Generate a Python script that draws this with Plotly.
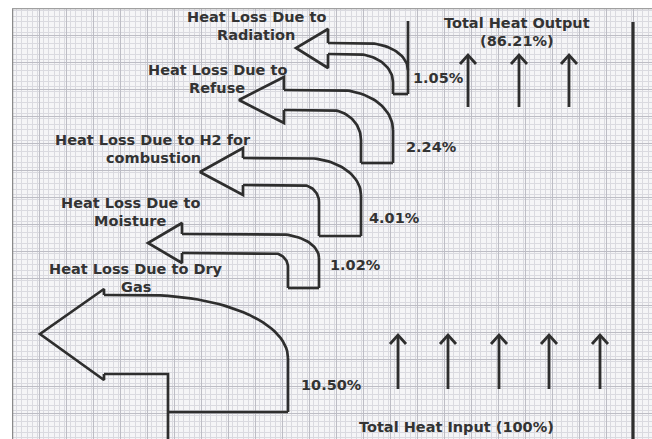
import numpy as np
import plotly.graph_objs as go

# Heat balance data (percent of total heat input)
loss_labels = ['Heat Loss Due to<br>Radiation', 'Heat Loss Due to<br>Refuse',
               'Heat Loss Due to H2 for<br>combustion', 'Heat Loss Due to<br>Moisture',
               'Heat Loss Due to Dry<br>Gas']
loss_values = [1.05, 2.24, 4.01, 1.02, 10.50]
heat_input = 100
heat_output = 86.21

# Drawing geometry of the loss arrows (pixels on the sheet, y downwards)
tip_x = [296, 239, 200, 148, 40]
tip_y = [48, 100, 172, 243, 334]
head_x = [328, 284, 243, 182, 104]
head_top = [29, 77, 148, 223, 289]
head_bot = [68, 123, 195, 263, 380]
shaft_top = [43, 90, 158, 234, 295]
shaft_bot = [54, 110, 185, 253, 374]
outer_x0 = [365, 338, 305, 277, 145]
outer_x1 = [408, 393, 361, 319, 288]
outer_y1 = [70, 130, 195, 258, 358]
outer_top = [21, 130, 195, 258, 358]
inner_x0 = [355, 330, 302, 273, 168]
inner_x1 = [393, 361, 319, 288, 168]
inner_y1 = [82, 140, 202, 267, 374]
inner_bot = [94, 163, 236, 288, 439]
close_y = [94, 163, 236, 288, 412]

label_x = [256, 217, 153, 130, 136]
label_y = [17, 70, 140, 203, 269]
value_x = [438, 431, 394, 355, 331]
value_y = [78, 147, 218, 265, 385]
line_step = 17.5

out_arrow_x = [468, 519, 569]
in_arrow_x = [398, 448, 499, 549, 600]

ink = '#2e2e2e'


def corner(x0, y0, x1, y1, n=30):
    # quarter ellipse from a horizontal start (x0, y0) to a vertical end (x1, y1)
    t = np.linspace(0, np.pi / 2, n)
    return list(x0 + (x1 - x0) * np.sin(t)), list(y1 - (y1 - y0) * np.cos(t))


def line(xs, ys, width=2.7):
    return go.Scatter(x=xs, y=ys, mode='lines', line=dict(color=ink, width=width),
                      hoverinfo='skip', showlegend=False)


data = []
for i in range(len(loss_values)):
    # arrow head
    data.append(line([head_x[i], head_x[i], tip_x[i], head_x[i], head_x[i]],
                     [shaft_top[i], head_top[i], tip_y[i], head_bot[i], shaft_bot[i]]))
    # upper edge with its bend into the outer vertical
    cx, cy = corner(outer_x0[i], shaft_top[i], outer_x1[i], outer_y1[i])
    data.append(line([head_x[i]] + cx, [shaft_top[i]] + cy))
    data.append(line([outer_x1[i], outer_x1[i]], [outer_top[i], close_y[i]]))
    # lower edge with its bend into the inner vertical
    cx, cy = corner(inner_x0[i], shaft_bot[i], inner_x1[i], inner_y1[i])
    data.append(line([head_x[i]] + cx + [inner_x1[i]], [shaft_bot[i]] + cy + [inner_bot[i]]))
    # closing line at the foot of the stream
    data.append(line([inner_x1[i], outer_x1[i]], [close_y[i], close_y[i]]))

# right boundary of the heat flow
data.append(line([633, 633], [22, 439], width=3.2))


def up_arrow(x, y0, y1):
    data.append(line([x, x], [y0, y1], width=2.8))
    data.append(line([x - 8, x, x + 8], [y1 + 9, y1, y1 + 9], width=2.8))


for x in out_arrow_x:
    up_arrow(x, 107, 55)
for x in in_arrow_x:
    up_arrow(x, 389, 335)

font = dict(family='DejaVu Sans', size=14.5, color='#333333', weight='bold')
annotations = []


def text_block(x, y, text):
    # one annotation per line so the line spacing follows the drawing
    for k, part in enumerate(text.split('<br>')):
        annotations.append(dict(x=x, y=y + k * line_step, text=part, showarrow=False,
                                font=font, xref='x', yref='y'))


for i in range(len(loss_values)):
    text_block(label_x[i], label_y[i], loss_labels[i])
    text_block(value_x[i], value_y[i], '%.2f%%' % loss_values[i])
text_block(517, 23, 'Total Heat Output<br>(%.2f%%)' % heat_output)
text_block(456, 427, 'Total Heat Input (%d%%)' % heat_input)

# graph paper sheet
axis_common = dict(showticklabels=False, ticks='', zeroline=False, showline=False,
                   gridcolor='#bdbdc5', gridwidth=1,
                   minor=dict(showgrid=True, gridcolor='#dadae0', gridwidth=1, dtick=5.4))
layout = go.Layout(
    width=652, height=439,
    margin=dict(l=12, r=0, t=8, b=0),
    paper_bgcolor='white', plot_bgcolor='#f5f5f7',
    xaxis=dict(range=[12, 652], dtick=27, tick0=12, **axis_common),
    yaxis=dict(range=[439, 8], dtick=27, tick0=8, **axis_common),
    annotations=annotations,
    shapes=[dict(type='line', xref='x', yref='y', x0=12, x1=12, y0=8, y1=439,
                 line=dict(color='#8a8a8a', width=2.5)),
            dict(type='line', xref='x', yref='y', x0=12, x1=652, y0=8.5, y1=8.5,
                 line=dict(color='#a0a0a0', width=1.5))],
)

fig = go.Figure(data=data, layout=layout)
fig.write_html('out.html', config={'displayModeBar': False},
               post_script="document.body.style.margin='0px';")
